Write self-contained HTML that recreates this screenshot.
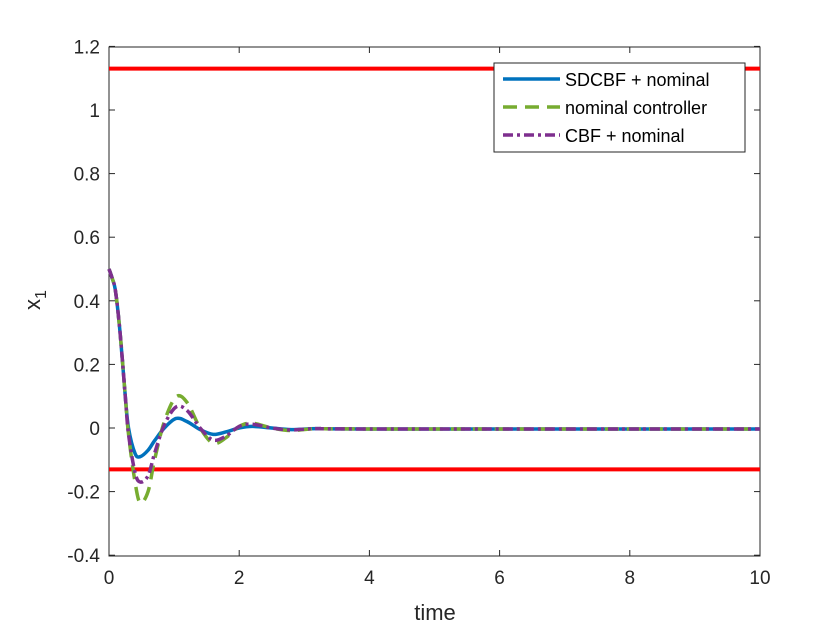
<!DOCTYPE html>
<html><head><meta charset="utf-8"><style>
body{margin:0;background:#fff;}
svg{display:block;font-family:"Liberation Sans",Arial,sans-serif;}
</style></head><body>
<svg id="c" width="840" height="630">
<rect x="0" y="0" width="840" height="630" fill="#fff"/>
<rect x="109" y="47" width="651" height="509" fill="#fff" stroke="#262626" stroke-width="1"/>
<g id="ticks"></g>
<g id="series"></g>
<text x="435" y="620" font-size="22" text-anchor="middle" fill="#262626">time</text>
<text transform="translate(40,300) rotate(-90)" font-size="22" text-anchor="middle" fill="#262626">x<tspan font-size="16" dy="6">1</tspan></text>
<g>
<rect x="494" y="63" width="251" height="89" fill="#fff" stroke="#262626" stroke-width="1"/>
<line x1="503" y1="79" x2="560" y2="79" stroke="#0072BD" stroke-width="3.5"/>
<text x="565" y="86" font-size="18" fill="#000">SDCBF + nominal</text>
<line x1="503" y1="107" x2="560" y2="107" stroke="#77AC30" stroke-width="3.5" stroke-dasharray="14,8"/>
<text x="565" y="114" font-size="18" fill="#000">nominal controller</text>
<line x1="503" y1="135" x2="560" y2="135" stroke="#7E2F8E" stroke-width="3.5" stroke-dasharray="10,4,3,4"/>
<text x="565" y="142" font-size="18" fill="#000">CBF + nominal</text>
</g>
</svg>
<script>
const times=[0,0.05,0.1,0.17,0.25,0.3,0.4,0.48,0.6,0.7,0.85,1.03,1.2,1.4,1.6,1.8,2.0,2.2,2.5,2.8,3.2,4,10];
const sdcbf=[0.5,0.47,0.43,0.3,0.1,0.0,-0.08,-0.09,-0.07,-0.04,0,0.03,0.02,-0.005,-0.02,-0.012,0,0.005,0,-0.005,-0.002,-0.003,-0.003];
const nominal=[0.5,0.47,0.43,0.3,0.1,-0.02,-0.17,-0.235,-0.2,-0.1,0.02,0.098,0.08,0.0,-0.048,-0.03,0.005,0.015,0,-0.008,-0.002,-0.003,-0.003];
const cbf=[0.5,0.47,0.43,0.3,0.1,-0.02,-0.14,-0.17,-0.15,-0.08,0.01,0.066,0.055,0.0,-0.038,-0.025,0.005,0.012,0,-0.006,-0.002,-0.003,-0.003];
const bounds=[1.13,-0.13];
const xTicks=[0,2,4,6,8,10];
const yTicks=[-0.4,-0.2,0,0.2,0.4,0.6,0.8,1,1.2];
const NS="http://www.w3.org/2000/svg";
const X=t=>109+t*65.1;
const Y=v=>428-v*318;
const tg=document.getElementById('ticks');
function mk(tag,attrs,parent){const e=document.createElementNS(NS,tag);for(const k in attrs)e.setAttribute(k,attrs[k]);parent.appendChild(e);return e;}
xTicks.forEach(t=>{
 mk('line',{x1:X(t),x2:X(t),y1:556,y2:550,stroke:'#262626'},tg);
 mk('line',{x1:X(t),x2:X(t),y1:47,y2:53,stroke:'#262626'},tg);
 const e=mk('text',{x:X(t),y:584,'font-size':19,'text-anchor':'middle',fill:'#262626'},tg);
 e.textContent=String(t);
 
 
});
yTicks.forEach(v=>{
 mk('line',{x1:109,x2:115,y1:Y(v),y2:Y(v),stroke:'#262626'},tg);
 mk('line',{x1:760,x2:754,y1:Y(v),y2:Y(v),stroke:'#262626'},tg);
 const e=mk('text',{x:100,y:Y(v)+7,'font-size':19,'text-anchor':'end',fill:'#262626'},tg);
 e.textContent=String(Math.round(v*10)/10);
 
 
});
const sg=document.getElementById('series');
bounds.forEach(b=>{
 const l=mk('line',{x1:109,x2:760,y1:Y(b),y2:Y(b),stroke:'#FF0000','stroke-width':4},sg);
 
 
});
function path(vals){
 const p=times.map((t,i)=>[X(t),Y(vals[i])]);
 let d='M'+p[0][0]+','+p[0][1];
 for(let i=0;i<p.length-1;i++){
  const p0=p[Math.max(0,i-1)],p1=p[i],p2=p[i+1],p3=p[Math.min(p.length-1,i+2)];
  const c1=[p1[0]+(p2[0]-p0[0])/6,p1[1]+(p2[1]-p0[1])/6];
  const c2=[p2[0]-(p3[0]-p1[0])/6,p2[1]-(p3[1]-p1[1])/6];
  d+=` C${c1[0]},${c1[1]} ${c2[0]},${c2[1]} ${p2[0]},${p2[1]}`;
 }
 return d;
}
const s1=mk('path',{d:path(sdcbf),fill:'none',stroke:'#0072BD','stroke-width':3.5},sg);


const s2=mk('path',{d:path(nominal),fill:'none',stroke:'#77AC30','stroke-width':3.5,'stroke-dasharray':'14,8'},sg);


const s3=mk('path',{d:path(cbf),fill:'none',stroke:'#7E2F8E','stroke-width':3.5,'stroke-dasharray':'10,4,3,4'},sg);


</script>
</body></html>
